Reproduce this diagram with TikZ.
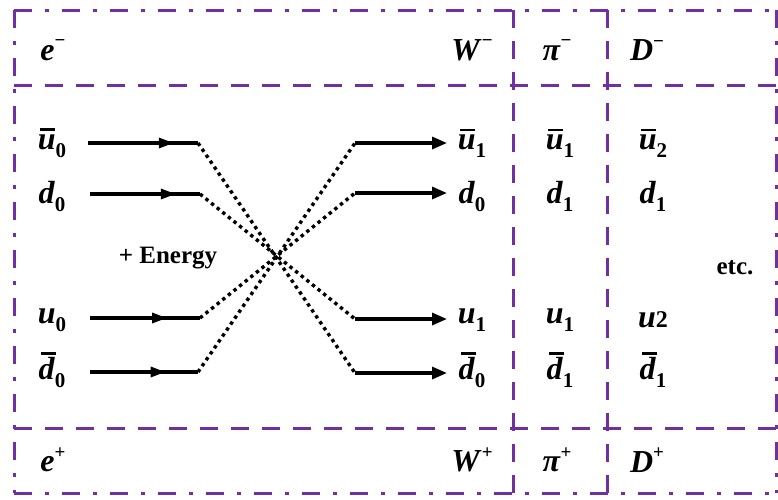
\documentclass[tikz,border=0pt]{standalone}
\usepackage{fontspec}
\setmainfont{Liberation Serif}
\usetikzlibrary{arrows.meta,decorations.markings}
\definecolor{frameviolet}{HTML}{7030A0}
\newcommand{\bi}[1]{\textbf{\textit{#1}}}
\newcommand{\sbs}[1]{\raisebox{-0.25em}{\fontsize{21}{21}\selectfont\textbf{#1}}}
\newcommand{\qk}[2]{\bi{#1}\sbs{#2}}
\newcommand{\qbar}[3]{\hbox{\rlap{\hspace{0.08em}\raisebox{#3}{\rule{0.46em}{0.075em}}}\bi{#1}}\sbs{#2}}
\newcommand{\sps}[2]{\bi{#1}\raisebox{0.42em}{\fontsize{19}{19}\selectfont\textbf{#2}}}
\begin{document}
\begin{tikzpicture}[x=1pt,y=-1pt,
  dashdot/.style={draw=frameviolet,line width=3pt,dash pattern=on 18pt off 13pt on 4pt off 13pt},
  dashline/.style={draw=frameviolet,line width=3pt,dash pattern=on 18pt off 13pt},
  lab/.style={inner sep=0pt,font=\fontsize{32}{32}\selectfont},
  txt/.style={inner sep=0pt,font=\fontsize{25}{25}\selectfont\bfseries},
  solidline/.style={line width=3.2pt,black},
  dotline/.style={line width=3.4pt,black,dash pattern=on 3.4pt off 3.8pt},
  midarrow/.style={postaction={decorate},decoration={markings,mark=at position #1 with {\arrow{Triangle[length=15pt,width=10pt]}}}},
  tiparrow/.style={-{Triangle[length=15pt,width=12pt]}}]
\useasboundingbox (0,0) rectangle (778,499);

% frame
\draw[dashdot] (14,10) -- (776,10);
\draw[dashdot] (14,493) -- (776,493);
\draw[dashdot] (14,10) -- (14,493);
\draw[dashdot] (776,10) -- (776,493);
\draw[dashline] (14,85) -- (776,85);
\draw[dashline] (14,428) -- (776,428);
\draw[dashline] (513,10) -- (513,493);
\draw[dashline] (607,10) -- (607,493);

% top and bottom rows
\node[lab] (em) at (53,50) {\sps{e}{−}};
\node[lab] (wm) at (472,50) {\sps{W}{−}};
\node[lab] (pim) at (557,50) {\sps{π}{−}};
\node[lab] (dm) at (647,50) {\sps{D}{−}};
\node[lab] (ep) at (53,460) {\sps{e}{+}};
\node[lab] (wp) at (472,460) {\sps{W}{+}};
\node[lab] (pip) at (557,460) {\sps{π}{+}};
\node[lab] (dp) at (647,460) {\sps{D}{+}};

% left labels
\node[lab] (lu0b) at (52,143) {\qbar{u}{0}{0.58em}};
\node[lab] (ld0) at (52,196) {\qk{d}{0}};
\node[lab] (lu0) at (52,320) {\qk{u}{0}};
\node[lab] (ld0b) at (52,370) {\qbar{d}{0}{0.78em}};
\node[txt] (energy) at (168,258) {+ Energy};

% right labels (after W)
\node[lab] (ru1b) at (472,143) {\qbar{u}{1}{0.58em}};
\node[lab] (rd0) at (472,196) {\qk{d}{0}};
\node[lab] (ru1) at (472,320) {\qk{u}{1}};
\node[lab] (rd0b) at (472,370) {\qbar{d}{0}{0.78em}};
% pi column
\node[lab] (pu1b) at (560,143) {\qbar{u}{1}{0.58em}};
\node[lab] (pd1) at (560,196) {\qk{d}{1}};
\node[lab] (pu1) at (560,320) {\qk{u}{1}};
\node[lab] (pd1b) at (560,370) {\qbar{d}{1}{0.78em}};
% D column
\node[lab] (du2b) at (653,143) {\qbar{u}{2}{0.58em}};
\node[lab] (dd1) at (653,196) {\qk{d}{1}};
\node[lab] (du2) at (653,320) {\bi{u}\textbf{\fontsize{24}{24}\selectfont 2}};
\node[lab] (dd1b) at (653,370) {\qbar{d}{1}{0.78em}};
\node[txt] (etc) at (735,268) {etc.};

% connector coordinates
\coordinate (a1) at (88,143);  \coordinate (b1) at (198,143);
\coordinate (a2) at (90,194);  \coordinate (b2) at (200,194);
\coordinate (a3) at (90,318);  \coordinate (b3) at (200,318);
\coordinate (a4) at (90,372);  \coordinate (b4) at (198,372);
\coordinate (c1) at (355,143); \coordinate (e1) at (447,143);
\coordinate (c2) at (355,193); \coordinate (e2) at (447,193);
\coordinate (c3) at (355,319); \coordinate (e3) at (447,319);
\coordinate (c4) at (355,373); \coordinate (e4) at (447,373);

\draw[solidline,midarrow=0.78] (a1) -- (b1);
\draw[solidline,midarrow=0.78] (a2) -- (b2);
\draw[solidline,midarrow=0.70] (a3) -- (b3);
\draw[solidline,midarrow=0.70] (a4) -- (b4);

\draw[dotline] (b1) -- (c4);
\draw[dotline] (b2) -- (c3);
\draw[dotline] (b3) -- (c2);
\draw[dotline] (b4) -- (c1);

\draw[solidline,tiparrow] (c1) -- (e1);
\draw[solidline,tiparrow] (c2) -- (e2);
\draw[solidline,tiparrow] (c3) -- (e3);
\draw[solidline,tiparrow] (c4) -- (e4);
\end{tikzpicture}
\end{document}
